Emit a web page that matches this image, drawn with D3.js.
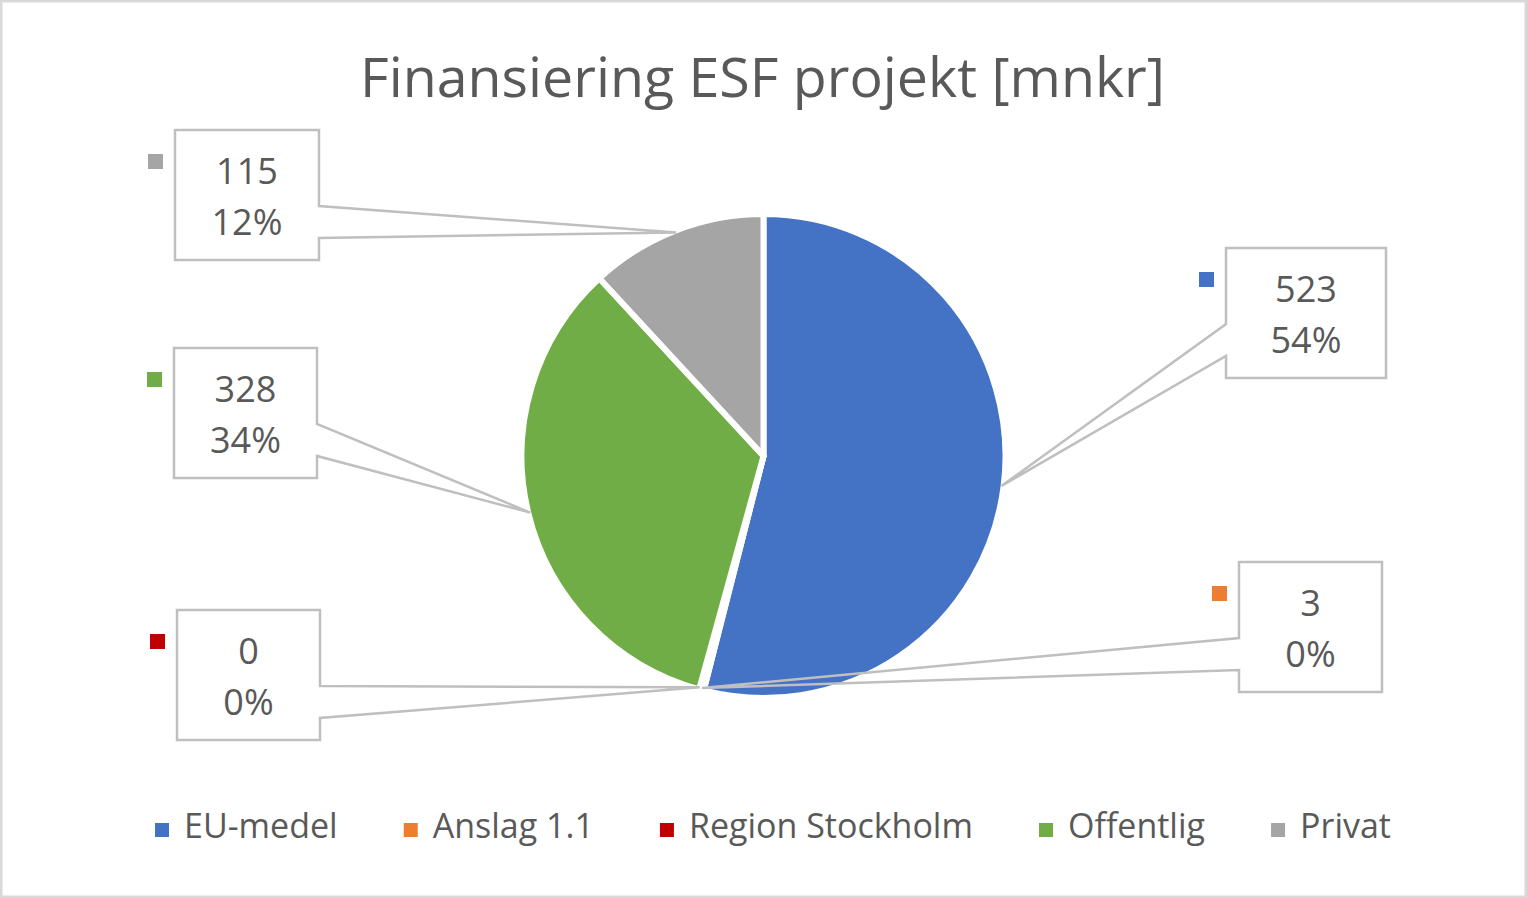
<!DOCTYPE html>
<html>
<head>
<meta charset="utf-8">
<script src="https://cdn.jsdelivr.net/npm/d3@7"></script>
<style>
  body { margin: 0; background: #fff; }
  svg { display: block; font-family: 'Open Sans', sans-serif; }
</style>
</head>
<body>
<svg width="1527" height="898"></svg>
<script>
// data
const categories = ['EU-medel', 'Anslag 1.1', 'Region Stockholm', 'Offentlig', 'Privat']
const values = [523, 3, 0, 328, 115]
const colours = ['#4472C4', '#ED7D31', '#C00000', '#70AD47', '#A5A5A5']
const title = 'Finansiering ESF projekt [mnkr]'

// where each callout box sits (dragged by hand in the original)
const boxX = [1226, 1239, 177, 174, 175]
const boxY = [248, 562, 610, 348, 130]
const boxW = [160, 143, 143, 143, 144]

const W = 1527, H = 898
const cx = 763.5, cy = 456, r = 242
const textCol = '#595959'
const lineCol = '#BFBFBF'

const svg = d3.select('svg')

// chart border
svg.append('rect')
  .attr('x', 1.25).attr('y', 1.25)
  .attr('width', W - 2.5).attr('height', H - 2.5)
  .attr('fill', '#fff').attr('stroke', '#D9D9D9').attr('stroke-width', 2.5)

// title, fitted to the width it has in the original
const t = svg.append('text')
  .attr('x', 762.5).attr('y', 97)
  .attr('text-anchor', 'middle')
  .attr('fill', textCol)
  .attr('font-size', 50)
  .text(title)
const tw = t.node().getComputedTextLength()
t.attr('font-size', 50 * 805 / tw)

const total = d3.sum(values)
const data = categories.map((c, i) => ({cat: c, value: values[i], i: i}))

const pie = d3.pie().sort(null).value(d => d.value)
const arcs = pie(data)
const arc = d3.arc().innerRadius(0).outerRadius(r)

const g = svg.append('g').attr('transform', `translate(${cx},${cy})`)
g.selectAll('path').data(arcs).enter()
  .append('path')
    .attr('d', arc)
    .attr('fill', d => colours[d.data.i])
    .attr('stroke', '#fff')
    .attr('stroke-width', 6)
    .attr('stroke-linejoin', 'round')

// callouts: box with a wedge pointing at the slice edge
const fmtPct = d3.format('.0%')
arcs.forEach(a => {
  const i = a.data.i
  const mid = (a.startAngle + a.endAngle) / 2
  const tipX = cx + (r - 2) * Math.sin(mid)
  const tipY = cy - (r - 2) * Math.cos(mid)
  const x0 = boxX[i], y0 = boxY[i], w = boxW[i], h = 130
  const x1 = x0 + w, y1 = y0 + h
  const n1 = y0 + 76, n2 = y0 + 108
  let p
  if (tipX > x1) {
    // wedge on right edge
    p = [[x0, y0], [x1, y0], [x1, n1], [tipX, tipY], [x1, n2], [x1, y1], [x0, y1]]
  } else {
    p = [[x1, y0], [x1, y1], [x0, y1], [x0, n2], [tipX, tipY], [x0, n1], [x0, y0]]
  }
  svg.append('path')
    .attr('d', d3.line()(p) + 'Z')
    .attr('fill', 'none')
    .attr('stroke', lineCol)
    .attr('stroke-width', 2.5)
    .attr('stroke-linejoin', 'miter')

  svg.append('rect')
    .attr('x', x0 - 27).attr('y', y0 + 24)
    .attr('width', 15).attr('height', 15)
    .attr('fill', colours[i])

  svg.append('text')
    .attr('x', x0 + w / 2).attr('y', y0 + 54)
    .attr('text-anchor', 'middle')
    .attr('font-size', 36)
    .attr('fill', textCol)
    .text(values[i])
  svg.append('text')
    .attr('x', x0 + w / 2).attr('y', y0 + 105)
    .attr('text-anchor', 'middle')
    .attr('font-size', 36)
    .attr('fill', textCol)
    .text(fmtPct(values[i] / total))
})

// legend along the bottom, spread over the same span as the original
const legendLeft = 155, legendRight = 1391
const legend = svg.append('g').attr('transform', 'translate(0,838)')
const items = categories.map((c, i) => {
  const item = legend.append('g')
  item.append('rect')
    .attr('x', 0).attr('y', -15)
    .attr('width', 14).attr('height', 14)
    .attr('fill', colours[i])
  const tx = item.append('text')
    .attr('x', 29).attr('y', 0)
    .attr('font-size', 34)
    .attr('fill', textCol)
    .text(c)
  return {item: item, w: 29 + tx.node().getComputedTextLength()}
})
const used = d3.sum(items, d => d.w)
const gap = (legendRight - legendLeft - used) / (items.length - 1)
let lx = legendLeft
items.forEach(d => {
  d.item.attr('transform', `translate(${lx},0)`)
  lx += d.w + gap
})
</script>
</body>
</html>
